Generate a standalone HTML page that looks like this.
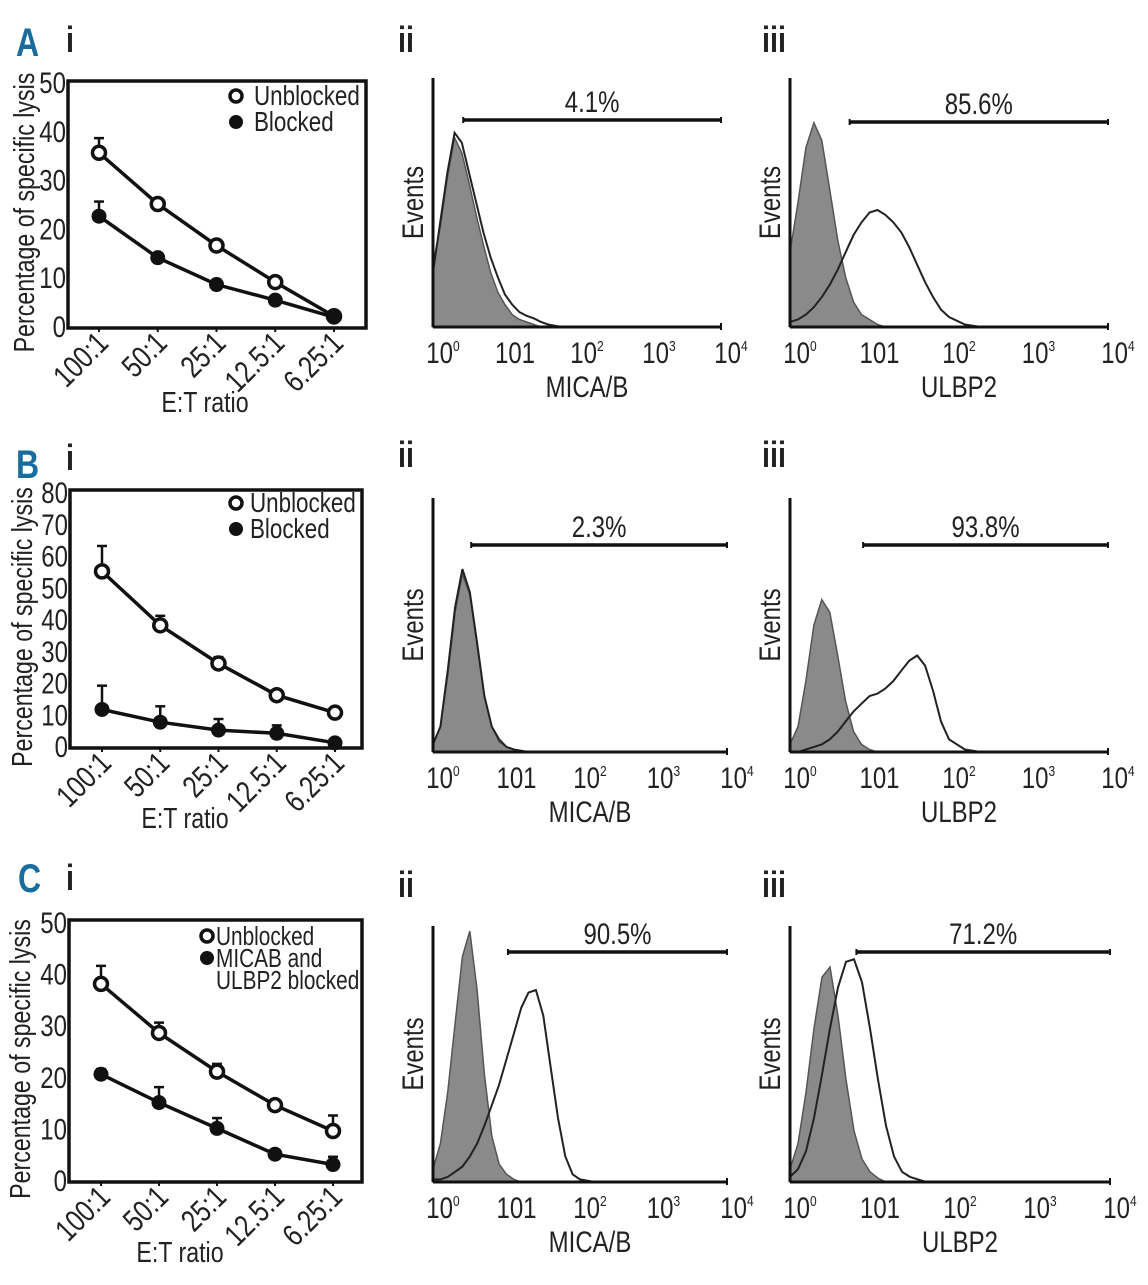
<!DOCTYPE html>
<html><head><meta charset="utf-8">
<style>
html,body{margin:0;padding:0;background:#fff;}
svg text{font-family:"Liberation Sans",sans-serif;fill:#222;}
</style></head>
<body>
<svg id="fig" width="1148" height="1280" viewBox="0 0 1148 1280" xmlns="http://www.w3.org/2000/svg"></svg>
<script>
// ---- Lysis chart data ----
const ratios = ["100:1","50:1","25:1","12.5:1","6.25:1"];
const aUnblocked = [35.5,25,16.5,9,2];
const aUnblockedErr = [3,0.5,0.5,0.5,0];
const aBlocked = [22.5,14,8.5,5.3,1.8];
const aBlockedErr = [3,0.5,1,0.5,0];
const aTicks = [0,10,20,30,40,50];
const bUnblocked = [55,38,26,16,10.5];
const bUnblockedErr = [8,3,2,0.5,0];
const bBlocked = [11.5,7.5,5,4,1];
const bBlockedErr = [7.5,5,3.5,2.5,0];
const bTicks = [0,10,20,30,40,50,60,70,80];
const cUnblocked = [38,28.5,21,14.5,9.5];
const cUnblockedErr = [3.5,2,1.5,1,3];
const cBlocked = [20.5,15,10,5,3];
const cBlockedErr = [1,3,2,0.5,1.5];
const cTicks = [0,10,20,30,40,50];
// ---- Histogram data: log10 fluorescence and relative height ----
const histLog = [0,0.1,0.2,0.3,0.4,0.5,0.6,0.7,0.8,0.9,1.0,1.1,1.2,1.3,1.4,1.5,1.6,1.7,1.8,1.9,2.0,2.2,2.4,2.6,4];
const aiiIso  = [0.25,0.4,0.6,0.76,0.7,0.58,0.45,0.33,0.22,0.14,0.09,0.05,0.03,0.02,0.01,0,0,0,0,0,0,0,0,0,0];
const aiiStain= [0.22,0.42,0.62,0.78,0.74,0.62,0.5,0.38,0.28,0.2,0.13,0.09,0.06,0.045,0.035,0.02,0.01,0.005,0,0,0,0,0,0,0];
const aiiiIso  = [0.3,0.5,0.72,0.82,0.75,0.55,0.35,0.2,0.1,0.05,0.03,0.01,0,0,0,0,0,0,0,0,0,0,0,0,0];
const aiiiStain= [0.02,0.03,0.05,0.08,0.12,0.17,0.23,0.3,0.37,0.42,0.46,0.47,0.45,0.42,0.38,0.32,0.25,0.18,0.12,0.07,0.04,0.01,0,0,0];
const biiIso  = [0.03,0.1,0.3,0.55,0.7,0.62,0.42,0.22,0.1,0.04,0.02,0.01,0,0,0,0,0,0,0,0,0,0,0,0,0];
const biiStain= [0.03,0.1,0.32,0.57,0.72,0.63,0.43,0.22,0.1,0.05,0.02,0.01,0.005,0,0,0,0,0,0,0,0,0,0,0,0];
const biiiIso  = [0.03,0.1,0.28,0.5,0.6,0.55,0.38,0.2,0.08,0.03,0.01,0,0,0,0,0,0,0,0,0,0,0,0,0,0];
const biiiStain= [0,0,0.01,0.02,0.03,0.05,0.08,0.12,0.16,0.19,0.22,0.23,0.25,0.28,0.32,0.36,0.38,0.34,0.24,0.12,0.05,0.01,0,0,0];
const ciiIso  = [0.05,0.15,0.35,0.62,0.88,0.98,0.75,0.42,0.18,0.07,0.03,0.01,0,0,0,0,0,0,0,0,0,0,0,0,0];
const ciiStain= [0.01,0.01,0.02,0.04,0.06,0.1,0.15,0.22,0.3,0.38,0.48,0.58,0.68,0.74,0.75,0.65,0.45,0.25,0.1,0.03,0.01,0,0,0,0];
const ciiiIso  = [0.05,0.15,0.35,0.6,0.8,0.84,0.65,0.4,0.2,0.09,0.04,0.015,0,0,0,0,0,0,0,0,0,0,0,0,0];
const ciiiStain= [0.02,0.05,0.12,0.25,0.42,0.6,0.76,0.86,0.87,0.78,0.6,0.4,0.22,0.1,0.04,0.02,0.01,0,0,0,0,0,0,0,0];

const NS="http://www.w3.org/2000/svg";
const svg=document.getElementById('fig');
const SX=0.8;
function el(tag,attrs,parent,txt){const e=document.createElementNS(NS,tag);for(const k in attrs)e.setAttribute(k,attrs[k]);if(txt!==undefined)e.textContent=txt;(parent||svg).appendChild(e);return e;}
function txt(parent,x,y,str,size,anchor,rot,extra){
  const a={x:0,y:0,'font-size':size,'text-anchor':anchor||'start',transform:`translate(${x} ${y}) rotate(${rot||0}) scale(${SX} 1)`};
  if(extra) for(const k in extra) a[k]=extra[k];
  return el('text',a,parent,str);
}

function panelLabel(letter,x,y){
  const t=txt(svg,x,y,letter,40,'start',0,{'font-weight':'bold',style:'fill:#1a6c9c'});
  
  
}
function romanLabel(s,x,y,name){
  const t=txt(svg,x,y,s,36,'start',0,{'font-weight':'bold',style:'fill:#222'});
  
  
}
panelLabel('A',16,56); romanLabel('i',66,52,'label-a-i'); romanLabel('ii',398,52,'label-a-ii'); romanLabel('iii',762,52,'label-a-iii');
panelLabel('B',16,478); romanLabel('i',66,470,'label-b-i'); romanLabel('ii',398,467,'label-b-ii'); romanLabel('iii',762,467,'label-b-iii');
panelLabel('C',18,892); romanLabel('i',66,890,'label-c-i'); romanLabel('ii',398,897,'label-c-ii'); romanLabel('iii',762,897,'label-c-iii');

function lysisChart(id,box,ymax,ticks,unb,unbErr,blk,blkErr,legendLines){
  const g=el('g',{});
  
  
  const x0=box.l, x1=box.r, yTop=box.t, yBot=box.b;
  const xs=i=>box.p0+(box.p1-box.p0)*i/(ratios.length-1);
  const ys=v=>box.y0+(box.yMax-box.y0)*v/ymax;
  const frame=el('rect',{x:x0,y:yTop,width:x1-x0,height:yBot-yTop,fill:'none',stroke:'#111','stroke-width':3.5},g);
  
  
  ticks.forEach(t=>{
    const tt=txt(g,x0-2,ys(t)+11,String(t),30,'end');
    
    
  });
  ratios.forEach((r,i)=>{
    el('line',{x1:xs(i),x2:xs(i),y1:yBot,y2:yBot+4,stroke:'#111','stroke-width':2},g);
    const tt=txt(g,xs(i)+11,yBot+17,r,31,'end',-45);
    
    
  });
  const yt=txt(g,box.ytx,(yTop+yBot)/2+8,'Percentage of specific lysis',29,'middle',-90);
  
  
  const xt=txt(g,box.xtx,box.xty,'E:T ratio',29,'middle');
  
  
  function series(vals,errs,filled,name){
    const sg=el('g',{},g);
    
    
    const d=vals.map((v,i)=>(i?'L':'M')+xs(i)+' '+ys(v)).join(' ');
    el('path',{d:d,fill:'none',stroke:'#111','stroke-width':3.5},sg);
    vals.forEach((v,i)=>{
      if(errs[i]>0.6){
        el('line',{x1:xs(i),x2:xs(i),y1:ys(v),y2:ys(v+errs[i]),stroke:'#111','stroke-width':2.5},sg);
        el('line',{x1:xs(i)-5,x2:xs(i)+5,y1:ys(v+errs[i]),y2:ys(v+errs[i]),stroke:'#111','stroke-width':2.5},sg);
      }
      const c=el('circle',{cx:xs(i),cy:ys(v),r:filled?7:6.5,fill:filled?'#111':'#fff',stroke:'#111','stroke-width':filled?1:3.5},sg);
      
      
    });
  }
  series(unb,unbErr,false,'unblocked-series');
  series(blk,blkErr,true,'blocked-series');
  const lg=el('g',{},g);
  
  
  const L=box.leg;
  el('circle',{cx:L.x,cy:L.y,r:6,fill:'#fff',stroke:'#111','stroke-width':3.5},lg);
  txt(lg,L.x+L.tx,L.y+9,legendLines[0],L.fs);
  el('circle',{cx:L.x,cy:L.y+L.dy,r:7,fill:'#111'},lg);
  for(let k=1;k<legendLines.length;k++) txt(lg,L.x+L.tx,L.y+L.dy*k+9,legendLines[k],L.fs);
}
lysisChart('a',{l:68,r:366,t:81,b:328,p0:99,p1:334,y0:326,yMax:82,ytx:34,xtx:205,xty:412,leg:{x:236,y:96,dy:26,tx:18,fs:28}},50,aTicks,aUnblocked,aUnblockedErr,aBlocked,aBlockedErr,['Unblocked','Blocked']);
lysisChart('b',{l:70,r:362,t:490,b:748,p0:102,p1:335,y0:746,yMax:492,ytx:32,xtx:185,xty:828,leg:{x:236,y:503,dy:26,tx:14,fs:28}},80,bTicks,bUnblocked,bUnblockedErr,bBlocked,bBlockedErr,['Unblocked','Blocked']);
lysisChart('c',{l:69,r:362,t:920,b:1182,p0:101,p1:333,y0:1180,yMax:922,ytx:30,xtx:180,xty:1262,leg:{x:207,y:936,dy:22,tx:9,fs:26}},50,cTicks,cUnblocked,cUnblockedErr,cBlocked,cBlockedErr,['Unblocked','MICAB and','ULBP2 blocked']);

function histogram(id,ax,iso,stain,gate,pct,xlabel){
  const g=el('g',{});
  
  
  const xs=v=>ax.x0+v*ax.dec;
  const ys=h=>ax.b-h*(ax.b-ax.t);
  const xEnd=xs(4);
  function path(arr,close){
    let d='';
    histLog.forEach((lv,i)=>{d+=(i?'L':'M')+xs(Math.min(lv,4)).toFixed(1)+' '+ys(arr[i]).toFixed(1)+' ';});
    if(close) d+=`L${xEnd} ${ax.b} L${xs(0)} ${ax.b} Z`;
    return d;
  }
  const iso_p=el('path',{d:path(iso,true),fill:'#8a8a8a',stroke:'#555','stroke-width':1.5},g);
  
  
  const st=el('path',{d:path(stain,false),fill:'none',stroke:'#222','stroke-width':2},g);
  
  
  el('line',{x1:ax.x0,x2:ax.x0,y1:ax.t,y2:ax.b,stroke:'#111','stroke-width':3},g);
  el('line',{x1:ax.x0,x2:xEnd,y1:ax.b,y2:ax.b,stroke:'#111','stroke-width':3},g);
  el('line',{x1:xEnd,x2:xEnd,y1:ax.b-4,y2:ax.b+3,stroke:'#111','stroke-width':2},g);
  const gl=el('line',{x1:xs(gate),x2:xEnd,y1:ax.gy,y2:ax.gy,stroke:'#111','stroke-width':3.5},g);
  
  
  el('line',{x1:xs(gate),x2:xs(gate),y1:ax.gy-3,y2:ax.gy+3,stroke:'#111','stroke-width':2},g);
  el('line',{x1:xEnd,x2:xEnd,y1:ax.gy-3,y2:ax.gy+3,stroke:'#111','stroke-width':2},g);
  const pt=txt(g,(xs(gate)+xEnd)/2,ax.gy-8,pct,30,'middle');
  
  
  const labels=[['10','0'],['101',''],['10','2'],['10','3'],['10','4']];
  labels.forEach((lb,i)=>{
    const t=el('text',{x:0,y:0,'font-size':30,'text-anchor':'middle',transform:`translate(${xs(i)+10} ${ax.b+36}) scale(${SX} 1)`},g);
    
    
    el('tspan',{},t,lb[0]);
    if(lb[1]) el('tspan',{'font-size':15,dy:-12},t,lb[1]);
  });
  const xt=txt(g,(ax.x0+xEnd)/2+10,ax.b+70,xlabel,30,'middle');
  
  
  const yt=txt(g,ax.x0-10,(ax.t+ax.b)/2,'Events',30,'middle',-90);
  
  
}
histogram('a-ii',{x0:433,dec:72,t:78,b:327,gy:120},aiiIso,aiiStain,0.42,'4.1%','MICA/B');
histogram('a-iii',{x0:790,dec:79.5,t:78,b:327,gy:122},aiiiIso,aiiiStain,0.75,'85.6%','ULBP2');
histogram('b-ii',{x0:433,dec:73.5,t:498,b:752,gy:545},biiIso,biiStain,0.52,'2.3%','MICA/B');
histogram('b-iii',{x0:790,dec:79.5,t:498,b:752,gy:545},biiiIso,biiiStain,0.92,'93.8%','ULBP2');
histogram('c-ii',{x0:433,dec:73.5,t:926,b:1182,gy:952},ciiIso,ciiStain,1.02,'90.5%','MICA/B');
histogram('c-iii',{x0:790,dec:80,t:926,b:1182,gy:952},ciiiIso,ciiiStain,0.83,'71.2%','ULBP2');
</script>
</body></html>
